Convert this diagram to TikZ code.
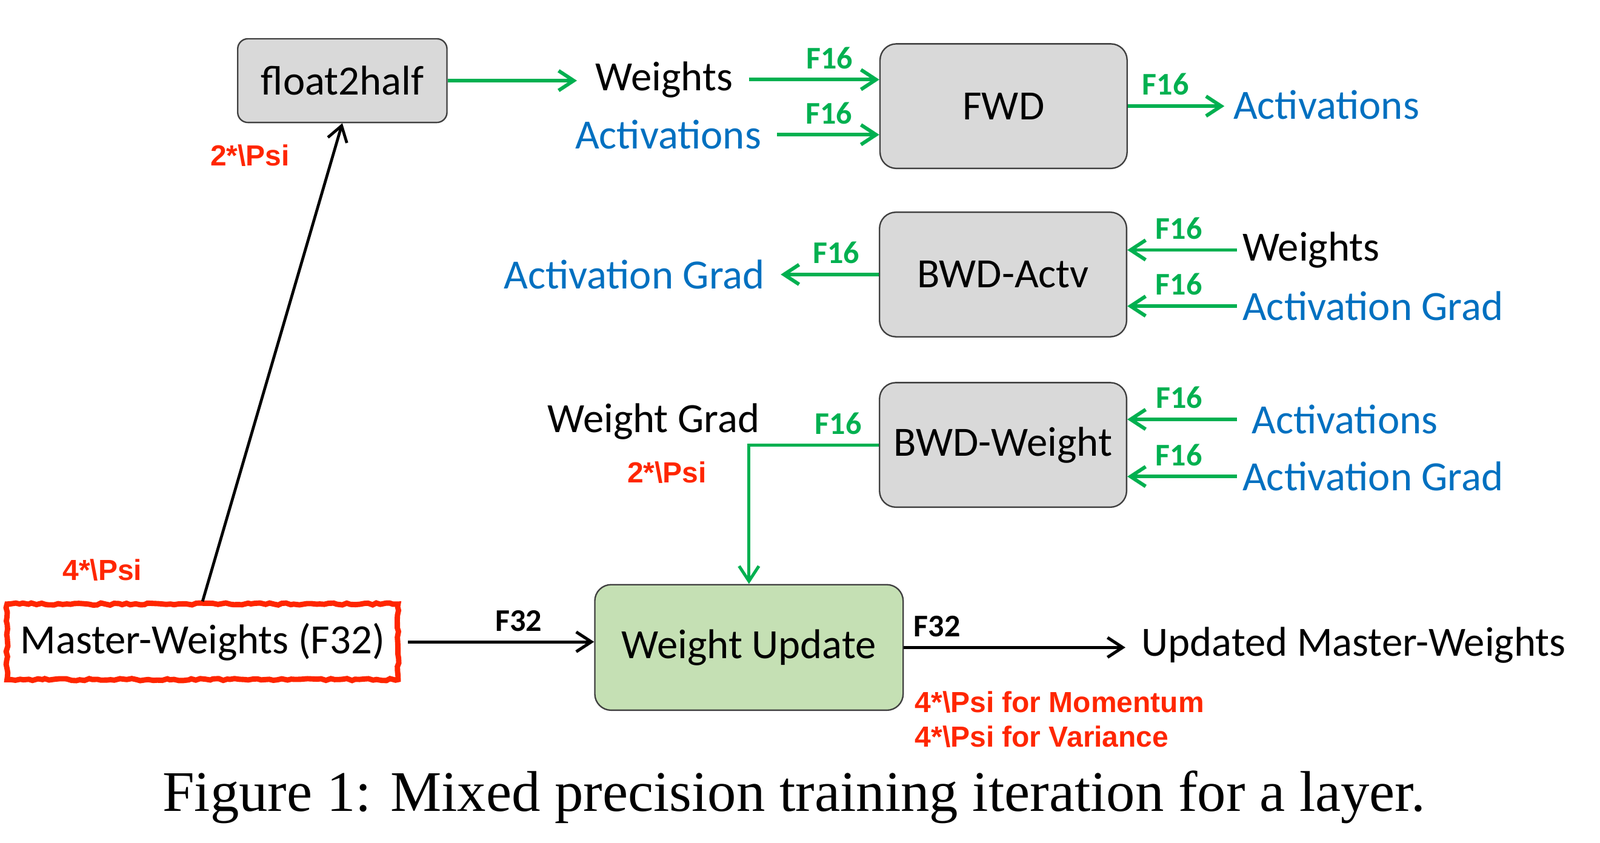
\documentclass[tikz,border=0pt]{standalone}
\usepackage{fontspec}
\setmainfont{Carlito}
\newfontfamily\psifont{Liberation Sans}
\newfontfamily\capfont{Liberation Serif}
\usepackage{tikz}
\usetikzlibrary{arrows.meta,decorations.pathmorphing}
\definecolor{fgreen}{RGB}{0,176,80}
\definecolor{fblue}{RGB}{0,112,192}
\definecolor{psired}{RGB}{255,38,0}
\definecolor{boxgray}{RGB}{217,217,217}
\definecolor{boxgreen}{RGB}{197,224,180}
\newcommand\mainsize{\fontsize{11.6}{13.8}\selectfont}

\tikzset{
    opbox/.style={draw=black!75, fill=boxgray, rounded corners=0.16cm,
        minimum width=2.42cm, minimum height=1.22cm, font=\mainsize},
    masterbox/.style={draw=psired, line width=1.5pt, minimum width=3.83cm,
        minimum height=0.74cm, font=\mainsize, decorate,
        decoration={random steps, segment length=1.2pt, amplitude=0.3pt}},
    txt/.style={inner sep=0pt, font=\mainsize},
    bluetxt/.style={txt, text=fblue},
    garrow/.style={draw=fgreen, line width=1pt, -{Straight Barb[length=4.2pt,width=5.5pt]}},
    barrow/.style={draw=black, line width=0.85pt, -{Straight Barb[length=4.2pt,width=5.5pt]}},
    flabel/.style={above, inner sep=2.5pt, text=fgreen, font=\fontsize{8.8}{10}\selectfont\bfseries},
    blabel/.style={flabel, text=black},
    psi/.style={inner sep=0pt, text=psired, font=\psifont\fontsize{8.1}{9.7}\selectfont\bfseries}
}

\begin{document}
\begin{tikzpicture}[x=0.01cm, y=-0.01cm]
    \useasboundingbox (0,0) rectangle (1568,826);

    % operation boxes
    \node[opbox, minimum width=2.05cm, minimum height=0.82cm, rounded corners=0.1cm] (f2h) at (335.5,79) {float2half};
    \node[opbox] (fwd) at (983.5,104) {FWD};
    \node[opbox] (bwda) at (983,269) {BWD-Actv};
    \node[opbox] (bwdw) at (983,436) {BWD-Weight};
    \node[opbox, fill=boxgreen, minimum width=3.02cm, minimum height=1.23cm] (wu) at (734,634.5) {Weight Update};
    \node[masterbox] (mw) at (198.5,629) {Master-Weights (F32)};

    % tensors
    \node[txt, anchor=west] (wts1) at (583,78) {Weights};
    \node[bluetxt, anchor=west] (act1) at (563,132) {Activations};
    \node[bluetxt, anchor=west] (act2) at (1208,103) {Activations};
    \node[bluetxt, anchor=east] (agr1) at (750,269) {Activation Grad};
    \node[txt, anchor=west] (wts2) at (1217,245) {Weights};
    \node[bluetxt, anchor=west] (agr2) at (1217,300) {Activation Grad};
    \node[bluetxt, anchor=west] (act3) at (1226,411) {Activations};
    \node[bluetxt, anchor=west] (agr3) at (1217,467) {Activation Grad};
    \node[txt, anchor=east] (wgrad) at (745,413) {Weight Grad};
    \node[txt, anchor=west] (umw) at (1118,632) {Updated Master-Weights};

    % forward pass
    \draw[garrow, shorten >=5pt] (f2h.east) -- (f2h.east -| wts1.west);
    \draw[garrow, shorten <=4.3pt] (wts1.east) -- (wts1.east -| fwd.west) node[flabel, pos=0.66] {F16};
    \draw[garrow, shorten <=4.3pt] (act1.east) -- (act1.east -| fwd.west) node[flabel, pos=0.57] {F16};
    \draw[garrow, shorten >=2.3pt] (fwd.east) -- (fwd.east -| act2.west) node[flabel, pos=0.36] {F16};

    % backward pass
    \draw[garrow, shorten >=4.3pt] (bwda.west) -- (bwda.west -| agr1.east) node[flabel, pos=0.375] {F16};
    \draw[garrow, shorten <=1.4pt] (wts2.west) -- (wts2.west -| bwda.east) node[flabel, pos=0.55] {F16};
    \draw[garrow, shorten <=1.4pt] (agr2.west) -- (agr2.west -| bwda.east) node[flabel, pos=0.55] {F16};
    \draw[garrow, shorten <=4pt] (act3.west) -- (act3.west -| bwdw.east) node[flabel, pos=0.58] {F16};
    \draw[garrow, shorten <=1.4pt] (agr3.west) -- (agr3.west -| bwdw.east) node[flabel, pos=0.55] {F16};
    \draw[garrow, line width=0.85pt] (bwdw.west) -| (wu.north)
        node[flabel, pos=0.156] {F16}
        node[psi, pos=0.6, left=0.4cm] (psiwg) {2*\textbackslash Psi};

    % weight update
    \draw[barrow, line width=0.8pt] (mw.north) -- (f2h.south)
        node[psi, pos=0.932, left=0.41cm] (psif2h) {2*\textbackslash Psi}
        node[psi, pos=0.066, left=0.67cm] (psimw) {4*\textbackslash Psi};
    \draw[barrow, shorten <=2pt] (mw.east) -- (mw.east -| wu.west) node[blabel, pos=0.61] {F32};
    \draw[barrow, shorten >=4.3pt] (wu.east) -- (wu.east -| umw.west) node[blabel, pos=0.14] {F32};
    \node[psi, anchor=west] (psimom) at (896,688) {4*\textbackslash Psi for Momentum};
    \node[psi, anchor=west] (psivar) at (896,722) {4*\textbackslash Psi for Variance};

    % caption
    \node[font=\capfont\fontsize{16}{19}\selectfont] (cap) at (778,781) {Figure 1: Mixed precision training iteration for a layer.};
\end{tikzpicture}
\end{document}
